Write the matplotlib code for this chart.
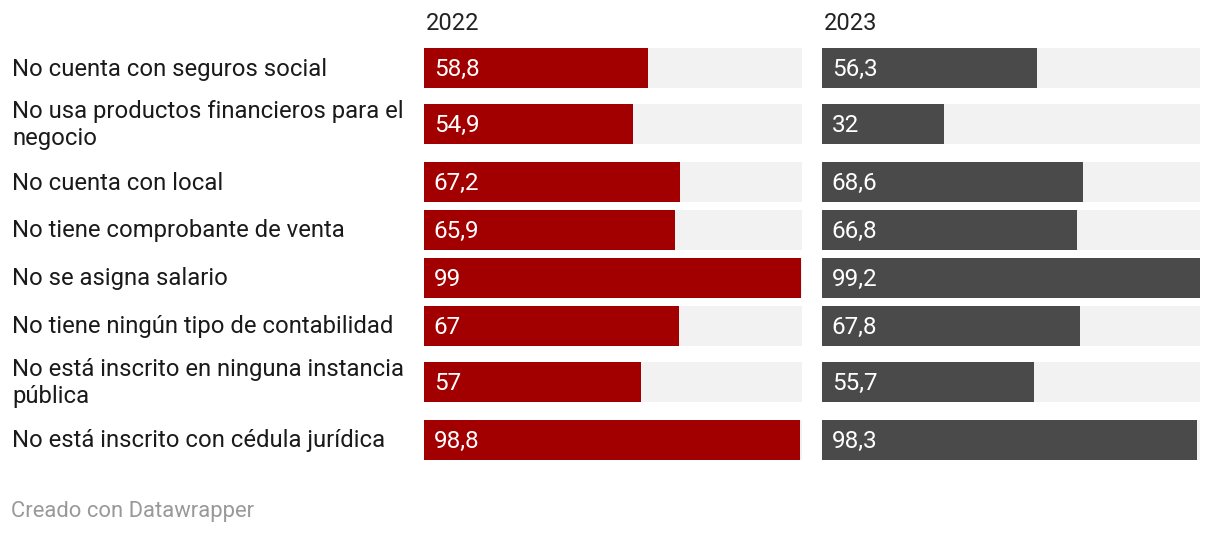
import matplotlib.pyplot as plt

plt.rcParams["font.family"] = ["Roboto", "DejaVu Sans"]

labels = [
    "No cuenta con seguros social",
    "No usa productos financieros para el\nnegocio",
    "No cuenta con local",
    "No tiene comprobante de venta",
    "No se asigna salario",
    "No tiene ningún tipo de contabilidad",
    "No está inscrito en ninguna instancia\npública",
    "No está inscrito con cédula jurídica",
]
years = ["2022", "2023"]
vals_2022 = [58.8, 54.9, 67.2, 65.9, 99, 67, 57, 98.8]
vals_2023 = [56.3, 32, 68.6, 66.8, 99.2, 67.8, 55.7, 98.3]
colors = ["#a20000", "#4a4a4a"]

W, H = 1220, 536
fig = plt.figure(figsize=(W / 100, H / 100), dpi=100)

# row centres in pixels: taller rows for two-line labels
centers = []
y = 68
for i, lab in enumerate(labels):
    nl = lab.count("\n")
    if i > 0:
        y += 48 + 8 * nl
    centers.append(y)
    y += 10 * nl

xmax = max(vals_2022 + vals_2023)

def fmt(v):
    s = f"{v:.1f}".replace(".", ",")
    return s[:-2] if s.endswith(",0") else s

panels = [(424, vals_2022), (822, vals_2023)]
for (x0, vals), year, col in zip(panels, years, colors):
    ax = fig.add_axes([x0 / W, 0, 378 / W, 1])
    ax.set_xlim(0, xmax)
    ax.set_ylim(H, 0)
    ax.axis("off")
    ax.barh(centers, [xmax] * len(vals), height=40, color="#f2f2f2")
    ax.barh(centers, vals, height=40, color=col)
    for c, v in zip(centers, vals):
        ax.annotate(fmt(v), (0, c + 1), xytext=(7, 0), textcoords="offset points",
                    ha="left", va="center", color="white", fontsize=17.5)
    ax.annotate(year, (0, 24), xytext=(1, 0), textcoords="offset points",
                ha="left", va="center", color="#222222", fontsize=17)

for c, lab in zip(centers, labels):
    fig.text(12 / W, 1 - (c + 1) / H, lab, ha="left", va="center", fontsize=17.2,
             color="#1a1a1a", linespacing=1.2)

fig.text(11 / W, 1 - 512 / H, "Creado con Datawrapper", ha="left", va="center",
         fontsize=15.8, color="#999999")

fig.savefig("out.png", dpi=100, facecolor="white")
